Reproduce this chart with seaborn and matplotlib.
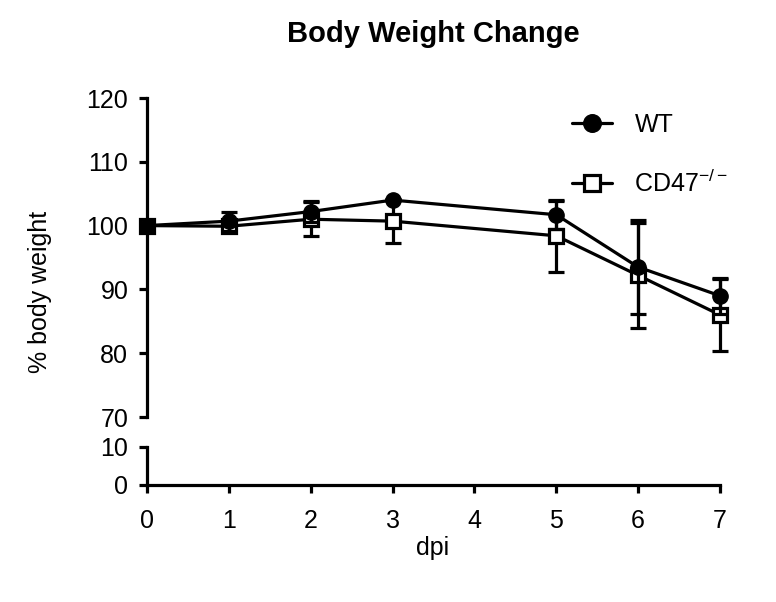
import numpy as np
import pandas as pd
import matplotlib
matplotlib.use("Agg")
import matplotlib.pyplot as plt
import seaborn as sns

sns.set_style("ticks")
plt.rcParams['font.family'] = ['Liberation Sans', 'DejaVu Sans']
plt.rcParams['mathtext.fontset'] = 'custom'
plt.rcParams['mathtext.rm'] = 'Liberation Sans'
plt.rcParams['mathtext.it'] = 'Liberation Sans'
plt.rcParams['text.color'] = 'black'
plt.rcParams['axes.labelcolor'] = 'black'
plt.rcParams['xtick.color'] = 'black'
plt.rcParams['ytick.color'] = 'black'
plt.rcParams['axes.edgecolor'] = 'black'

dpi_days = [0, 1, 2, 3, 5, 6, 7]
wt_mean = [100, 100.7, 102.2, 104, 101.7, 93.5, 89]
wt_err = [0, 1.5, 1.6, 0, 2.2, 7.3, 2.8]
ko_mean = [100, 99.9, 101, 100.7, 98.4, 92.2, 86]
ko_err = [0, 0.8, 2.7, 3.4, 5.6, 8.2, 5.7]
x_ticks = [0, 1, 2, 3, 4, 5, 6, 7]

df = pd.DataFrame({
    'dpi': dpi_days * 2,
    'weight': wt_mean + ko_mean,
    'err': wt_err + ko_err,
    'group': ['WT'] * len(dpi_days) + ['KO'] * len(dpi_days),
})

lw = 2.3
fs = 18
fig = plt.figure(figsize=(7.76, 6.02), dpi=100)
ax_top = fig.add_axes([147/776, 1-417/602, 573/776, 319/602])
ax_bot = fig.add_axes([147/776, 1-485/602, 573/776, 38/602])

styles = {
    'KO': dict(marker='s', markerfacecolor='white', markeredgecolor='black', markersize=10.5, markeredgewidth=2.3),
    'WT': dict(marker='o', markerfacecolor='black', markeredgecolor='black', markersize=11, markeredgewidth=1),
}
labels = {'WT': 'WT', 'KO': 'CD47$^{-/-}$'}

for i, grp in enumerate(['KO', 'WT']):
    sub = df[df['group'] == grp]
    ax_top.errorbar(sub['dpi'], sub['weight'], yerr=sub['err'], fmt='none',
                    ecolor='black', elinewidth=lw, capsize=6, capthick=lw,
                    clip_on=False, zorder=2 + i)
    sns.lineplot(data=sub, x='dpi', y='weight', ax=ax_top, color='black',
                 linewidth=lw, label=labels[grp], clip_on=False, zorder=3 + i,
                 **styles[grp])

ax_top.set_ylim(70, 120)
ax_top.set_xlim(0, 7)
ax_top.set_yticks([70, 80, 90, 100, 110, 120])
ax_top.set_xticks([])
ax_top.set_xlabel('')
ax_top.set_ylabel('')
for s in ['top', 'right', 'bottom']:
    ax_top.spines[s].set_visible(False)

ax_bot.set_ylim(0, 10)
ax_bot.set_xlim(0, 7)
ax_bot.set_yticks([0, 10])
ax_bot.set_xticks(x_ticks)
for s in ['top', 'right']:
    ax_bot.spines[s].set_visible(False)

for ax in (ax_top, ax_bot):
    ax.patch.set_alpha(0)
    for s in ['left', 'bottom']:
        ax.spines[s].set_linewidth(lw)
    ax.tick_params(axis='both', width=lw, length=5.5, labelsize=fs, color='black',
                   labelcolor='black')
    ax.tick_params(axis='y', pad=8)
    ax.tick_params(axis='x', pad=12)

# legend
handles, labs = ax_top.get_legend_handles_labels()
order = [labs.index('WT'), labs.index('CD47$^{-/-}$')]
ax_top.legend([handles[k] for k in order], [labs[k] for k in order],
              loc='upper left', bbox_to_anchor=((572-147)/573, (417-113)/319), frameon=False,
              fontsize=fs, handlelength=1.6, handletextpad=0.9, markerscale=1.15,
              labelspacing=1.3, borderpad=0, borderaxespad=0)

fig.text(433/776, 1-34/602, 'Body Weight Change', ha='center', va='center',
         fontsize=21, fontweight='bold')
fig.text(433/776, 1-548/602, 'dpi', ha='center', va='center', fontsize=fs)
fig.text(40/776, 1-292/602, '% body weight', ha='center', va='center',
         fontsize=fs, rotation=90)

fig.savefig('out.png', dpi=100)
